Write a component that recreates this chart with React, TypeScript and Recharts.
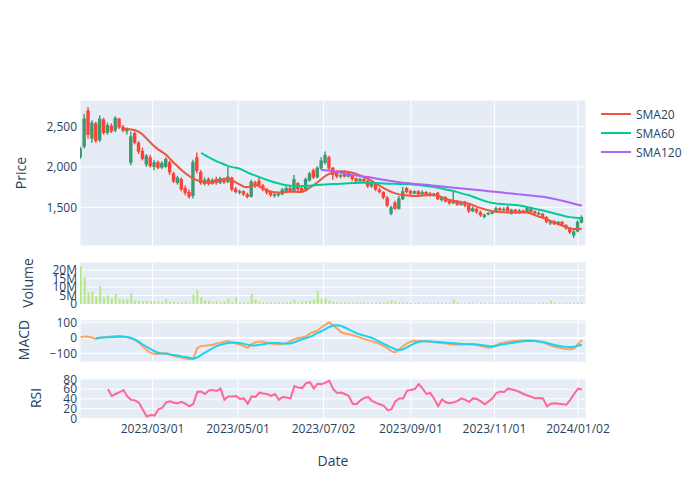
import { ComposedChart, Bar, Line, XAxis, YAxis, CartesianGrid, ReferenceLine } from 'recharts';

// one candle every second trading day, t = trading-day number
const tickDays = [37, 81, 125, 170, 213, 256];
const tickLabels = ['2023/03/01', '2023/05/01', '2023/07/02', '2023/09/01', '2023/11/01', '2024/01/02'];

const opens = [
  2120, 2250, 2700, 2350, 2540, 2330, 2590, 2420, 2510, 2450, 2600, 2500, 2440, 2050, 2420, 2300, 2200, 2030, 2120, 2000,
  2060, 1990, 2000, 2060, 1920, 1800, 1850, 1740, 1690, 1640, 2120, 1940, 1790, 1850, 1790, 1850, 1800, 1860, 1810, 1870,
  1730, 1680, 1700, 1660, 1630, 1810, 1830, 1770, 1720, 1690, 1640, 1650, 1660, 1700, 1740, 1700, 1800, 1740, 1720, 1830,
  1960, 1870, 1980, 2050, 2120, 1990, 1950, 1880, 1950, 1880, 1900, 1860, 1820, 1850, 1830, 1760, 1790, 1720, 1690, 1620,
  1420, 1560, 1480, 1600, 1740, 1700, 1670, 1700, 1660, 1690, 1670, 1640, 1680, 1590, 1620, 1580, 1550, 1580, 1530, 1570,
  1530, 1450, 1480, 1440, 1380, 1410, 1420, 1440, 1490, 1460, 1500, 1420, 1470, 1430, 1460, 1440, 1480, 1450, 1410, 1420,
  1380, 1300, 1330, 1290, 1320, 1280, 1240, 1150, 1200, 1310,
];
const highs = [
  2250, 2660, 2740, 2580, 2560, 2640, 2610, 2550, 2540, 2630, 2610, 2520, 2490, 2440, 2440, 2320, 2240, 2160, 2150, 2090,
  2080, 2070, 2120, 2080, 1940, 1890, 1870, 1770, 1720, 2090, 2180, 1960, 1870, 1870, 1860, 1880, 1880, 1870, 2000, 1880,
  1750, 1720, 1710, 1680, 1840, 1830, 1870, 1790, 1740, 1700, 1680, 1690, 1740, 1760, 1760, 1900, 1810, 1760, 1870, 1940,
  1980, 2010, 2120, 2190, 2140, 2000, 1960, 1920, 1960, 1950, 1910, 1870, 1870, 1860, 1840, 1820, 1800, 1740, 1700, 1640,
  1520, 1580, 1640, 1750, 1750, 1720, 1710, 1710, 1710, 1700, 1690, 1680, 1690, 1640, 1640, 1600, 1700, 1590, 1580, 1580,
  1540, 1510, 1490, 1460, 1420, 1440, 1460, 1510, 1500, 1500, 1520, 1480, 1480, 1480, 1470, 1510, 1490, 1460, 1450, 1430,
  1390, 1340, 1340, 1330, 1330, 1290, 1260, 1220, 1340, 1400,
];
const lows = [
  2100, 2230, 2350, 2300, 2300, 2310, 2400, 2400, 2420, 2430, 2470, 2430, 2400, 2020, 2280, 2160, 2080, 2000, 1990, 1960,
  1970, 1970, 1990, 1900, 1800, 1780, 1700, 1650, 1610, 1610, 1920, 1780, 1770, 1770, 1780, 1780, 1790, 1790, 1800, 1700,
  1670, 1660, 1640, 1610, 1620, 1740, 1750, 1700, 1660, 1630, 1620, 1630, 1650, 1690, 1690, 1690, 1700, 1690, 1700, 1820,
  1850, 1860, 1960, 2030, 1960, 1840, 1860, 1860, 1870, 1870, 1830, 1810, 1800, 1800, 1740, 1740, 1700, 1670, 1600, 1500,
  1400, 1470, 1470, 1590, 1670, 1650, 1660, 1650, 1650, 1640, 1630, 1630, 1590, 1570, 1560, 1530, 1540, 1520, 1520, 1500,
  1430, 1440, 1420, 1380, 1360, 1400, 1410, 1430, 1450, 1450, 1440, 1410, 1420, 1420, 1430, 1430, 1430, 1400, 1400, 1360,
  1300, 1280, 1280, 1280, 1270, 1220, 1170, 1120, 1190, 1300,
];
const closes = [
  2230, 2600, 2400, 2550, 2320, 2600, 2420, 2520, 2440, 2610, 2490, 2450, 2470, 2380, 2300, 2190, 2100, 2140, 2010, 2060,
  1990, 2050, 2100, 1930, 1820, 1870, 1720, 1680, 1630, 2060, 1950, 1800, 1840, 1790, 1840, 1800, 1860, 1810, 1880, 1720,
  1690, 1700, 1660, 1630, 1820, 1760, 1770, 1720, 1680, 1650, 1660, 1670, 1720, 1740, 1700, 1850, 1720, 1700, 1850, 1920,
  1870, 1990, 2080, 2150, 1980, 1900, 1880, 1900, 1880, 1930, 1850, 1820, 1850, 1820, 1760, 1800, 1720, 1690, 1620, 1520,
  1500, 1480, 1610, 1700, 1690, 1670, 1700, 1660, 1690, 1660, 1640, 1670, 1600, 1620, 1570, 1550, 1580, 1530, 1560, 1520,
  1450, 1490, 1440, 1400, 1410, 1430, 1450, 1490, 1460, 1480, 1450, 1470, 1430, 1460, 1440, 1490, 1440, 1420, 1430, 1380,
  1320, 1330, 1290, 1320, 1280, 1240, 1190, 1200, 1320, 1380,
];
// millions of shares
const volumes = [
  22.5, 15.7, 7.0, 7.3, 4.6, 10.5, 4.0, 5.0, 3.5, 6.0, 2.8, 2.5, 3.0, 6.5, 2.0, 1.8, 1.5, 1.8, 1.5, 1.6,
  1.4, 1.2, 3.0, 1.3, 1.2, 1.0, 1.1, 1.3, 1.0, 5.5, 8.3, 4.0, 2.2, 1.8, 1.2, 1.5, 1.0, 1.4, 3.0, 1.2,
  4.0, 1.0, 0.9, 1.1, 5.8, 2.5, 1.2, 1.0, 0.8, 0.9, 0.7, 0.8, 0.7, 0.9, 1.2, 2.5, 1.0, 1.5, 1.4, 2.0,
  2.5, 7.7, 3.0, 3.5, 2.0, 1.2, 1.0, 0.8, 1.1, 0.9, 0.8, 0.7, 0.9, 0.8, 0.7, 0.6, 0.8, 0.7, 1.0, 1.2,
  2.0, 1.3, 0.9, 0.8, 0.7, 0.6, 0.5, 0.6, 0.5, 0.6, 0.5, 0.4, 0.6, 0.5, 0.5, 0.6, 2.5, 0.8, 0.5, 0.4,
  0.6, 0.5, 0.4, 0.6, 0.5, 0.4, 0.5, 0.6, 0.4, 0.5, 0.6, 0.4, 0.5, 0.4, 0.5, 0.6, 0.5, 0.4, 0.5, 0.6,
  0.7, 2.0, 0.8, 0.6, 0.5, 0.6, 0.7, 0.8, 0.9, 0.7,
];

const SMA20_FROM = 11;
const sma20 = [
  2475, 2472, 2465, 2455, 2435, 2400, 2350, 2300, 2255, 2215, 2185, 2150, 2100, 2050, 2005, 1960, 1920, 1885, 1855, 1835,
  1820, 1812, 1808, 1815, 1828, 1840, 1850, 1855, 1835, 1805, 1780, 1755, 1750, 1765, 1778, 1760, 1730, 1710, 1695, 1685,
  1683, 1685, 1690, 1692, 1693, 1690, 1690, 1710, 1745, 1775, 1810, 1850, 1890, 1915, 1935, 1945, 1948, 1945, 1938, 1928,
  1912, 1892, 1872, 1852, 1825, 1795, 1765, 1738, 1712, 1690, 1672, 1660, 1652, 1647, 1643, 1640, 1640, 1645, 1650, 1655,
  1655, 1645, 1625, 1605, 1590, 1580, 1572, 1562, 1552, 1545, 1525, 1505, 1490, 1475, 1462, 1452, 1445, 1440, 1437, 1435,
  1434, 1434, 1435, 1436, 1435, 1420, 1400, 1382, 1370, 1352, 1330, 1310, 1290, 1270, 1252, 1238, 1230, 1232, 1235,
];
const SMA60_FROM = 31;
const sma60 = [
  2175, 2145, 2120, 2095, 2070, 2050, 2030, 2010, 1998, 1990, 1978, 1955, 1930, 1910, 1893, 1873, 1855, 1838, 1822, 1808,
  1795, 1783, 1773, 1768, 1765, 1764, 1765, 1766, 1768, 1772, 1776, 1780, 1783, 1786, 1788, 1790, 1792, 1795, 1798, 1800,
  1802, 1804, 1805, 1805, 1803, 1800, 1797, 1795, 1793, 1792, 1791, 1790, 1789, 1787, 1784, 1780, 1775, 1770, 1764, 1757,
  1750, 1742, 1732, 1720, 1712, 1702, 1688, 1672, 1660, 1650, 1630, 1612, 1595, 1578, 1564, 1553, 1546, 1542, 1538, 1533,
  1530, 1527, 1522, 1512, 1500, 1490, 1480, 1470, 1460, 1448, 1436, 1423, 1410, 1398, 1387, 1378, 1372, 1368, 1362,
];
const SMA120_FROM = 62;
const sma120 = [
  1962, 1958, 1952, 1946, 1940, 1930, 1920, 1910, 1900, 1893, 1887, 1880, 1874, 1866, 1857, 1848, 1840, 1832, 1825, 1818,
  1810, 1804, 1800, 1795, 1790, 1786, 1782, 1778, 1774, 1768, 1763, 1758, 1752, 1747, 1742, 1738, 1734, 1730, 1725, 1720,
  1715, 1710, 1705, 1700, 1695, 1690, 1685, 1680, 1675, 1670, 1665, 1660, 1655, 1650, 1645, 1640, 1635, 1630, 1622, 1612,
  1602, 1592, 1580, 1568, 1556, 1544, 1532, 1520,
];
const macd = [
  5, 10, 8, 2, -6, 2, 5, 8, 10, 12, 12, 10, 4, -3, -14, -30, -55, -78, -96, -102,
  -103, -100, -96, -105, -116, -121, -126, -131, -137, -132, -65, -52, -50, -47, -43, -36, -30, -24, -20, -28,
  -35, -42, -52, -63, -40, -28, -22, -25, -31, -36, -38, -40, -41, -33, -20, -8, 0, 3, 10, 28,
  38, 48, 68, 85, 100, 80, 60, 38, 28, 24, 18, 10, 2, -6, -14, -22, -29, -40, -52, -66,
  -85, -92, -72, -52, -35, -22, -20, -19, -19, -22, -25, -28, -30, -33, -36, -39, -42, -43, -42, -41,
  -41, -41, -45, -52, -58, -62, -58, -45, -36, -30, -25, -21, -19, -17, -16, -15, -15, -18, -24, -29,
  -38, -48, -56, -62, -66, -70, -73, -68, -38, -15,
];
const SIGNAL_FROM = 4;
const signal = [
  0, 2, 3, 4, 5, 6, 7, 7, 6, 0, -10, -25, -42, -57, -72, -85, -95, -99, -102, -106,
  -109, -113, -118, -122, -127, -133, -125, -108, -94, -80, -65, -52, -43, -37, -33, -30, -30, -33, -38, -44,
  -49, -48, -44, -40, -36, -33, -32, -33, -35, -36, -36, -28, -18, -8, 0, 6, 18, 32, 43, 58,
  70, 80, 82, 77, 67, 55, 42, 30, 22, 15, 8, 0, -12, -25, -38, -50, -62, -72, -79, -72,
  -60, -46, -34, -26, -21, -21, -22, -24, -26, -28, -30, -32, -34, -36, -38, -39, -40, -41, -42, -45,
  -49, -52, -54, -50, -44, -40, -36, -32, -28, -24, -21, -19, -19, -20, -23, -26, -32, -39, -45, -50,
  -54, -57, -58, -57, -50, -44,
];
const RSI_FROM = 7;
const rsi = [
  60, 46, 50, 54, 58, 45, 38, 37, 32, 18, 4, 7, 6, 19, 22, 33, 35, 32, 31, 34,
  30, 25, 30, 54, 55, 50, 57, 58, 56, 61, 38, 45, 45, 46, 40, 41, 30, 45, 44, 53,
  51, 50, 46, 50, 38, 44, 43, 41, 66, 63, 62, 72, 74, 61, 71, 70, 73, 77, 60, 52,
  53, 50, 46, 30, 29, 37, 42, 44, 36, 32, 29, 26, 17, 19, 35, 41, 41, 57, 58, 60,
  70, 61, 50, 52, 40, 25, 39, 33, 31, 33, 36, 41, 38, 34, 41, 40, 35, 29, 35, 41,
  52, 55, 54, 61, 59, 57, 54, 50, 47, 44, 41, 42, 41, 25, 30, 31, 30, 29, 28, 38,
  50, 61, 59,
];

const pick = (arr: number[], from: number, i: number) => (i >= from && i - from < arr.length ? arr[i - from] : null);

const rows = closes.map((close, i) => ({
  t: i * 2,
  open: opens[i],
  high: highs[i],
  low: lows[i],
  close,
  range: [lows[i], highs[i]],
  volume: volumes[i] * 1e6,
  sma20: pick(sma20, SMA20_FROM, i),
  sma60: pick(sma60, SMA60_FROM, i),
  sma120: pick(sma120, SMA120_FROM, i),
  macd: macd[i],
  signal: pick(signal, SIGNAL_FROM, i),
  rsi: pick(rsi, RSI_FROM, i),
}));

const FONT = '"Open Sans", verdana, arial, sans-serif';
const INK = '#2a3f5f';
const BG = '#E5ECF6';
const X_DOMAIN: [number, number] = [-0.36, 260.12];
const W = 700;
const PAD = 10; // room above/below each plot so edge tick labels are not clipped
const MARGIN = { top: PAD, right: 114, bottom: PAD, left: 30 };
const tick = { fontFamily: FONT, fontSize: 12, fill: INK };

const Candle = (props: any) => {
  const { x, y, width, height, payload } = props;
  if (x == null || !payload) return null;
  const top = Math.min(y, y + height);
  const bottom = Math.max(y, y + height);
  const { open, close, high, low } = payload;
  const span = high - low || 1;
  const yAt = (v: number) => top + ((high - v) / span) * (bottom - top);
  const up = close >= open;
  const color = up ? '#3D9970' : '#FF4136';
  const cx = x + width / 2;
  const bTop = yAt(Math.max(open, close));
  const bBot = yAt(Math.min(open, close));
  return (
    <g>
      <line x1={cx} x2={cx} y1={top} y2={bottom} stroke={color} strokeWidth={1.4} />
      <rect x={cx - 1.7} y={bTop} width={3.4} height={Math.max(1.5, bBot - bTop)} fill={color} />
    </g>
  );
};

const xAxis = (show: boolean) => (
  <XAxis
    type="number"
    dataKey="t"
    domain={X_DOMAIN}
    allowDataOverflow
    ticks={tickDays}
    tickFormatter={(v: number) => tickLabels[tickDays.indexOf(v)] ?? ''}
    hide={!show}
    height={show ? 20 : 0}
    axisLine={false}
    tickLine={false}
    tickSize={0}
    tickMargin={5}
    tick={tick}
    interval={0}
  />
);

const yAxisBase = {
  type: 'number' as const,
  allowDataOverflow: true,
  width: 50,
  axisLine: false,
  tickLine: false,
  tickSize: 0,
  tickMargin: 3,
  tick,
  interval: 0 as const,
};

const minus = (v: number) => (v < 0 ? '\u2212' + Math.abs(v) : String(v));

export default function App() {
  return (
    <div style={{ position: 'absolute', left: 0, top: 0, width: 700, height: 500, background: '#fff', fontFamily: FONT }}>
      <div style={{ position: 'absolute', left: 0, top: 100 - PAD }}>
        <ComposedChart width={W} height={146 + 2 * PAD} data={rows} margin={MARGIN}>
          <CartesianGrid fill={BG} stroke="#fff" />
          {xAxis(false)}
          <YAxis
            {...yAxisBase}
            domain={[1020, 2830]}
            ticks={[1500, 2000, 2500]}
            tickFormatter={(v: number) => v.toLocaleString('en-US')}
          />
          <Bar dataKey="range" barSize={3} shape={Candle} isAnimationActive={false} />
          <Line dataKey="sma20" stroke="#EF553B" strokeWidth={2} dot={false} isAnimationActive={false} />
          <Line dataKey="sma60" stroke="#00CC96" strokeWidth={2} dot={false} isAnimationActive={false} />
          <Line dataKey="sma120" stroke="#AB63FA" strokeWidth={2} dot={false} isAnimationActive={false} />
        </ComposedChart>
      </div>

      <div style={{ position: 'absolute', left: 0, top: 262 - PAD }}>
        <ComposedChart width={W} height={42 + 2 * PAD} data={rows} margin={MARGIN}>
          <CartesianGrid fill={BG} stroke="#fff" />
          {xAxis(false)}
          <YAxis
            {...yAxisBase}
            domain={[0, 24.8e6]}
            ticks={[0, 5e6, 10e6, 15e6, 20e6]}
            tickFormatter={(v: number) => (v === 0 ? '0' : v / 1e6 + 'M')}
          />
          <Bar dataKey="volume" barSize={2} fill="#B6E880" isAnimationActive={false} />
        </ComposedChart>
      </div>

      <div style={{ position: 'absolute', left: 0, top: 320 - PAD }}>
        <ComposedChart width={W} height={42 + 2 * PAD} data={rows} margin={MARGIN}>
          <CartesianGrid fill={BG} stroke="#fff" />
          {xAxis(false)}
          <YAxis {...yAxisBase} domain={[-154, 115]} ticks={[-100, 0, 100]} tickFormatter={minus} />
          <ReferenceLine y={0} stroke="#fff" strokeWidth={2} />
          <Line dataKey="macd" stroke="#FFA15A" strokeWidth={2} dot={false} isAnimationActive={false} />
          <Line dataKey="signal" stroke="#19D3F3" strokeWidth={2} dot={false} isAnimationActive={false} />
        </ComposedChart>
      </div>

      <div style={{ position: 'absolute', left: 0, top: 378 - PAD }}>
        <ComposedChart width={W} height={41 + 20 + 2 * PAD} data={rows} margin={MARGIN}>
          <CartesianGrid fill={BG} stroke="#fff" />
          {xAxis(true)}
          <YAxis {...yAxisBase} domain={[-1, 82.6]} ticks={[0, 20, 40, 60, 80]} />
          <Line dataKey="rsi" stroke="#FF6692" strokeWidth={2} dot={false} isAnimationActive={false} />
        </ComposedChart>
      </div>

      <svg width={700} height={500} style={{ position: 'absolute', left: 0, top: 0, pointerEvents: 'none' }}>
        <g fontFamily={FONT} fill={INK} fontSize={14} textAnchor="middle" dominantBaseline="central">
          <text transform="translate(20.5,173) rotate(-90)">Price</text>
          <text transform="translate(27.5,283) rotate(-90)">Volume</text>
          <text transform="translate(23,340) rotate(-90)">MACD</text>
          <text transform="translate(35.5,398) rotate(-90)">RSI</text>
          <text x={333} y={460}>Date</text>
        </g>
        <g fontFamily={FONT} fill={INK} fontSize={12}>
          {[
            ['SMA20', '#EF553B'],
            ['SMA60', '#00CC96'],
            ['SMA120', '#AB63FA'],
          ].map(([name, color], k) => (
            <g key={name}>
              <line x1={601} x2={631} y1={114 + k * 19} y2={114 + k * 19} stroke={color} strokeWidth={2} />
              <text x={636} y={114 + k * 19} dominantBaseline="central">
                {name}
              </text>
            </g>
          ))}
        </g>
      </svg>
    </div>
  );
}
